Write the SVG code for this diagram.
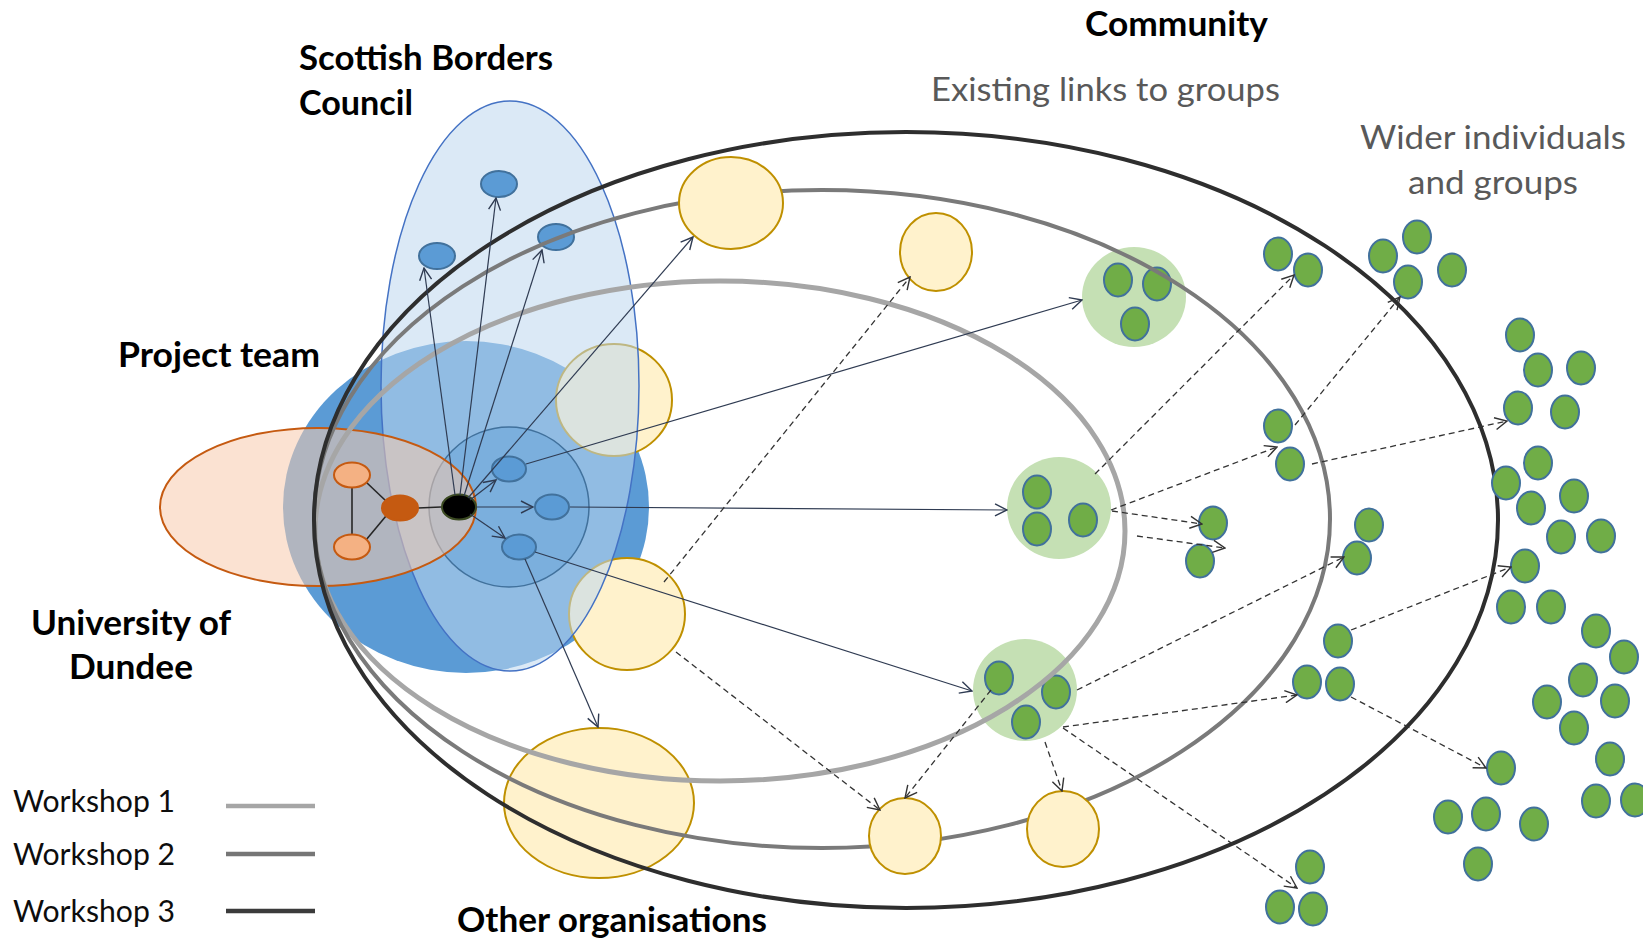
<svg xmlns="http://www.w3.org/2000/svg" width="1643" height="943" viewBox="0 0 1643 943">
<defs>
<marker id="arS" markerUnits="userSpaceOnUse" markerWidth="14" markerHeight="14" viewBox="0 0 14 14" refX="13" refY="7" orient="auto">
<path d="M1,1 L13,7 L1,13" fill="none" stroke="#2f3b52" stroke-width="1.4"/>
</marker>
<marker id="arD" markerUnits="userSpaceOnUse" markerWidth="14" markerHeight="14" viewBox="0 0 14 14" refX="13" refY="7" orient="auto">
<path d="M1,1 L13,7 L1,13" fill="none" stroke="#333333" stroke-width="1.4" stroke-dasharray="none"/>
</marker>
</defs>
<style>
.ring{fill:none}
.dot{fill:#70ad47;stroke:#41719c;stroke-width:2}
.yel{fill:#fff2cc;stroke:#bf9000;stroke-width:2}
.grp{fill:#c5e0b4}
.bn{fill:#5b9bd5;stroke:#41719c;stroke-width:2}
.on{fill:#f4b183;stroke:#c55a11;stroke-width:2}
.ol{stroke:#262626;stroke-width:1.6;fill:none}
.solid{stroke:#2f3b52;stroke-width:1.2;fill:none;marker-end:url(#arS)}
.dash{stroke:#333333;stroke-width:1.3;fill:none;stroke-dasharray:6 4;marker-end:url(#arD)}
.lbl{font-family:Lato,"Liberation Sans",sans-serif;font-weight:bold;font-size:35px;fill:#000}
.gl{font-family:Lato,"Liberation Sans",sans-serif;font-size:33px;fill:#595959}
.wl{font-family:Lato,"Liberation Sans",sans-serif;font-size:31px;fill:#0d0d0d}
</style>
<rect width="1643" height="943" fill="#ffffff"/>

<g id="project-team">
<ellipse cx="466" cy="507" rx="183" ry="166" fill="#5b9bd5"/>
</g>

<g id="org-y3"><ellipse class="yel" cx="614" cy="400" rx="58" ry="56"/></g>
<g id="org-y4"><ellipse class="yel" cx="627" cy="614" rx="58" ry="56"/></g>

<g id="scottish-borders-council">
<ellipse cx="510" cy="386" rx="129" ry="285" fill="#bdd7ee" fill-opacity="0.55" stroke="#4472c4" stroke-width="1.5"/>
<ellipse class="bn" cx="437" cy="256" rx="18" ry="13"/>
<ellipse class="bn" cx="499" cy="184" rx="18" ry="13"/>
<ellipse class="bn" cx="556" cy="237" rx="18" ry="13"/>
</g>

<g id="core-team">
<circle cx="509" cy="507" r="80" fill="#5b9bd5" fill-opacity="0.4" stroke="#41719c" stroke-width="1.5"/>
<ellipse class="bn" cx="509" cy="469" rx="17" ry="12.5"/>
<ellipse class="bn" cx="552" cy="507" rx="17" ry="12.5"/>
<ellipse class="bn" cx="519" cy="547" rx="17" ry="12.5"/>
</g>

<g id="university-of-dundee">
<ellipse cx="318" cy="507" rx="158" ry="79" fill="#f8cbad" fill-opacity="0.55" stroke="#c55a11" stroke-width="2"/>
<line class="ol" x1="352" y1="488" x2="352" y2="534"/>
<line class="ol" x1="366" y1="482" x2="386" y2="501"/>
<line class="ol" x1="366" y1="540" x2="386" y2="516"/>
<line class="ol" x1="418" y1="508" x2="441" y2="507"/>
<ellipse class="on" cx="352" cy="475" rx="18" ry="12.5"/>
<ellipse class="on" cx="352" cy="547" rx="18" ry="12.5"/>
<ellipse cx="400" cy="508" rx="18" ry="12.5" fill="#c55a11" stroke="#c55a11" stroke-width="2"/>
</g>
<g id="hub"><ellipse cx="459" cy="507" rx="17" ry="12.5" fill="#000" stroke="#3b4a22" stroke-width="2"/></g>

<g id="org-y5"><ellipse class="yel" cx="599" cy="803" rx="95" ry="75"/></g>

<g id="group-g1">
<ellipse class="grp" cx="1134" cy="297" rx="52" ry="50"/>
<ellipse class="dot" cx="1118" cy="280" rx="14" ry="16.5"/>
<ellipse class="dot" cx="1157" cy="284" rx="14" ry="16.5"/>
<ellipse class="dot" cx="1135" cy="324" rx="14" ry="16.5"/>
</g>
<g id="group-g2">
<ellipse class="grp" cx="1059" cy="508" rx="52" ry="51"/>
<ellipse class="dot" cx="1037" cy="492" rx="14" ry="16.5"/>
<ellipse class="dot" cx="1037" cy="529" rx="14" ry="16.5"/>
<ellipse class="dot" cx="1083" cy="520" rx="14" ry="16.5"/>
</g>
<g id="group-g3">
<ellipse class="grp" cx="1025" cy="690" rx="52" ry="51"/>
<ellipse class="dot" cx="999" cy="678" rx="14" ry="16.5"/>
<ellipse class="dot" cx="1056" cy="692" rx="14" ry="16.5"/>
<ellipse class="dot" cx="1026" cy="722" rx="14" ry="16.5"/>
</g>

<g id="workshop-rings">
<ellipse class="ring" cx="720" cy="531" rx="405" ry="250" stroke="#a6a6a6" stroke-width="5"/>
<ellipse class="ring" cx="822" cy="519" rx="508" ry="329" stroke="#7a7a7a" stroke-width="4"/>
<ellipse class="ring" cx="906" cy="520" rx="592" ry="388" stroke="#2e2e2e" stroke-width="4"/>
</g>

<g id="org-y1"><ellipse class="yel" cx="731" cy="203" rx="52" ry="46"/></g>
<g id="org-y2"><ellipse class="yel" cx="936" cy="252" rx="36" ry="39"/></g>
<g id="org-y6"><ellipse class="yel" cx="905" cy="836" rx="36" ry="38"/></g>
<g id="org-y7"><ellipse class="yel" cx="1063" cy="829" rx="36" ry="38"/></g>

<g id="individuals-inner">
<ellipse class="dot" cx="1278" cy="254" rx="14" ry="16.5"/>
<ellipse class="dot" cx="1308" cy="270" rx="14" ry="16.5"/>
<ellipse class="dot" cx="1278" cy="426" rx="14" ry="16.5"/>
<ellipse class="dot" cx="1290" cy="464" rx="14" ry="16.5"/>
<ellipse class="dot" cx="1213" cy="523" rx="14" ry="16.5"/>
<ellipse class="dot" cx="1200" cy="561" rx="14" ry="16.5"/>
<ellipse class="dot" cx="1369" cy="525" rx="14" ry="16.5"/>
<ellipse class="dot" cx="1357" cy="558" rx="14" ry="16.5"/>
<ellipse class="dot" cx="1338" cy="641" rx="14" ry="16.5"/>
<ellipse class="dot" cx="1307" cy="682" rx="14" ry="16.5"/>
<ellipse class="dot" cx="1340" cy="684" rx="14" ry="16.5"/>
<ellipse class="dot" cx="1310" cy="867" rx="14" ry="16.5"/>
<ellipse class="dot" cx="1280" cy="907" rx="14" ry="16.5"/>
<ellipse class="dot" cx="1313" cy="909" rx="14" ry="16.5"/>
</g>
<g id="individuals-wider">
<ellipse class="dot" cx="1383" cy="256" rx="14" ry="16.5"/>
<ellipse class="dot" cx="1417" cy="237" rx="14" ry="16.5"/>
<ellipse class="dot" cx="1408" cy="282" rx="14" ry="16.5"/>
<ellipse class="dot" cx="1452" cy="270" rx="14" ry="16.5"/>
<ellipse class="dot" cx="1520" cy="335" rx="14" ry="16.5"/>
<ellipse class="dot" cx="1538" cy="370" rx="14" ry="16.5"/>
<ellipse class="dot" cx="1581" cy="368" rx="14" ry="16.5"/>
<ellipse class="dot" cx="1518" cy="408" rx="14" ry="16.5"/>
<ellipse class="dot" cx="1565" cy="412" rx="14" ry="16.5"/>
<ellipse class="dot" cx="1538" cy="463" rx="14" ry="16.5"/>
<ellipse class="dot" cx="1506" cy="483" rx="14" ry="16.5"/>
<ellipse class="dot" cx="1531" cy="508" rx="14" ry="16.5"/>
<ellipse class="dot" cx="1574" cy="496" rx="14" ry="16.5"/>
<ellipse class="dot" cx="1561" cy="537" rx="14" ry="16.5"/>
<ellipse class="dot" cx="1601" cy="536" rx="14" ry="16.5"/>
<ellipse class="dot" cx="1525" cy="566" rx="14" ry="16.5"/>
<ellipse class="dot" cx="1511" cy="607" rx="14" ry="16.5"/>
<ellipse class="dot" cx="1551" cy="607" rx="14" ry="16.5"/>
<ellipse class="dot" cx="1596" cy="631" rx="14" ry="16.5"/>
<ellipse class="dot" cx="1624" cy="657" rx="14" ry="16.5"/>
<ellipse class="dot" cx="1583" cy="680" rx="14" ry="16.5"/>
<ellipse class="dot" cx="1615" cy="701" rx="14" ry="16.5"/>
<ellipse class="dot" cx="1547" cy="702" rx="14" ry="16.5"/>
<ellipse class="dot" cx="1574" cy="728" rx="14" ry="16.5"/>
<ellipse class="dot" cx="1610" cy="759" rx="14" ry="16.5"/>
<ellipse class="dot" cx="1501" cy="768" rx="14" ry="16.5"/>
<ellipse class="dot" cx="1596" cy="801" rx="14" ry="16.5"/>
<ellipse class="dot" cx="1635" cy="800" rx="14" ry="16.5"/>
<ellipse class="dot" cx="1448" cy="817" rx="14" ry="16.5"/>
<ellipse class="dot" cx="1486" cy="814" rx="14" ry="16.5"/>
<ellipse class="dot" cx="1534" cy="824" rx="14" ry="16.5"/>
<ellipse class="dot" cx="1478" cy="864" rx="14" ry="16.5"/>
</g>

<g id="connectors">
<line class="solid" x1="455" y1="495" x2="424" y2="268"/>
<line class="solid" x1="460" y1="495" x2="496" y2="198"/>
<line class="solid" x1="464" y1="496" x2="542" y2="250"/>
<line class="solid" x1="468" y1="498" x2="693" y2="237"/>
<line class="solid" x1="470" y1="500" x2="496" y2="480"/>
<line class="solid" x1="476" y1="507" x2="533" y2="507"/>
<line class="solid" x1="470" y1="514" x2="505" y2="538"/>
<line class="solid" x1="526" y1="464" x2="1082" y2="300"/>
<line class="solid" x1="570" y1="507" x2="1007" y2="510"/>
<line class="solid" x1="535" y1="552" x2="972" y2="691"/>
<line class="solid" x1="525" y1="559" x2="598" y2="727"/>
<line class="dash" x1="664" y1="582" x2="910" y2="277"/>
<line class="dash" x1="676" y1="652" x2="880" y2="810"/>
<line class="dash" x1="991" y1="690" x2="905" y2="798"/>
<line class="dash" x1="1045" y1="742" x2="1062" y2="791"/>
<line class="dash" x1="1063" y1="728" x2="1297" y2="888"/>
<line class="dash" x1="1063" y1="727" x2="1297" y2="695"/>
<line class="dash" x1="1077" y1="690" x2="1344" y2="557"/>
<line class="dash" x1="1095" y1="474" x2="1294" y2="275"/>
<line class="dash" x1="1111" y1="510" x2="1277" y2="447"/>
<line class="dash" x1="1112" y1="511" x2="1202" y2="524"/>
<line class="dash" x1="1137" y1="536" x2="1225" y2="548"/>
<line class="dash" x1="1295" y1="425" x2="1400" y2="297"/>
<line class="dash" x1="1312" y1="464" x2="1507" y2="421"/>
<line class="dash" x1="1351" y1="630" x2="1511" y2="567"/>
<line class="dash" x1="1351" y1="697" x2="1486" y2="768"/>
</g>

<g id="legend">
<line x1="226" y1="806" x2="315" y2="806" stroke="#a6a6a6" stroke-width="4.5"/>
<line x1="226" y1="854" x2="315" y2="854" stroke="#767676" stroke-width="4.5"/>
<line x1="226" y1="911" x2="315" y2="911" stroke="#3b3b3b" stroke-width="4.5"/>
<text class="wl" x="13" y="812" textLength="162" lengthAdjust="spacingAndGlyphs">Workshop 1</text>
<text class="wl" x="13" y="865" textLength="162" lengthAdjust="spacingAndGlyphs">Workshop 2</text>
<text class="wl" x="13" y="922" textLength="162" lengthAdjust="spacingAndGlyphs">Workshop 3</text>
</g>

<g id="labels">
<text class="lbl" x="299" y="70" textLength="254" lengthAdjust="spacingAndGlyphs">Scottish Borders</text>
<text class="lbl" x="299" y="115" textLength="114" lengthAdjust="spacingAndGlyphs">Council</text>
<text class="lbl" x="118" y="367" textLength="202" lengthAdjust="spacingAndGlyphs">Project team</text>
<text class="lbl" x="31" y="635" textLength="200" lengthAdjust="spacingAndGlyphs">University of</text>
<text class="lbl" x="69" y="679" textLength="124" lengthAdjust="spacingAndGlyphs">Dundee</text>
<text class="lbl" x="457" y="932" textLength="310" lengthAdjust="spacingAndGlyphs">Other organisations</text>
<text class="lbl" x="1085" y="36" textLength="183" lengthAdjust="spacingAndGlyphs">Community</text>
<text class="gl" x="931" y="101" textLength="349" lengthAdjust="spacingAndGlyphs">Existing links to groups</text>
<text class="gl" x="1360" y="149" textLength="266" lengthAdjust="spacingAndGlyphs">Wider individuals</text>
<text class="gl" x="1408" y="194" textLength="170" lengthAdjust="spacingAndGlyphs">and groups</text>
</g>
</svg>
